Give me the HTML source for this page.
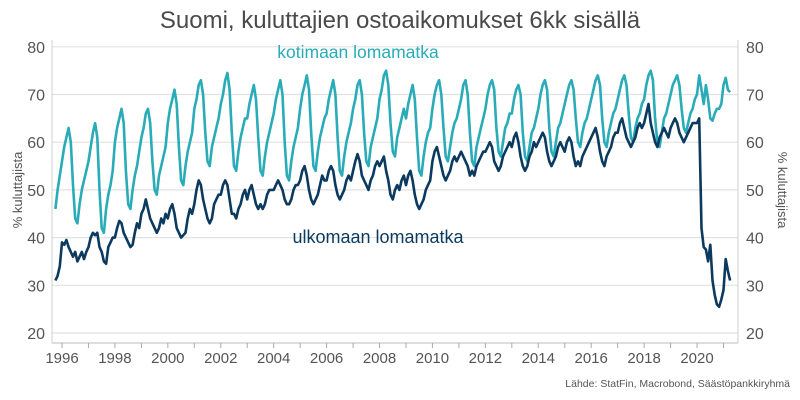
<!DOCTYPE html>
<html><head><meta charset="utf-8"><style>
body{margin:0;background:#fff}
svg{display:block;font-family:"Liberation Sans",sans-serif}
</style></head><body>
<svg id="chart" width="800" height="400" viewBox="0 0 800 400" xmlns="http://www.w3.org/2000/svg">
<text x="400" y="28" text-anchor="middle" font-size="24" fill="#4a4a4a">Suomi, kuluttajien ostoaikomukset 6kk sisällä</text>
<g id="grid"></g>
<g id="axes"></g>
<g id="series"></g>
<text x="358" y="58" text-anchor="middle" font-size="17.5" fill="#2aabb8">kotimaan lomamatka</text>
<text x="378" y="243" text-anchor="middle" font-size="18" fill="#0b3a5e">ulkomaan lomamatka</text>
<text transform="translate(22,190) rotate(-90)" text-anchor="middle" font-size="13" fill="#555">% kuluttajista</text>
<text transform="translate(778,190) rotate(90)" text-anchor="middle" font-size="13" fill="#555">% kuluttajista</text>
<text x="790" y="387" text-anchor="end" font-size="10.5" fill="#555">Lähde: StatFin, Macrobond, Säästöpankkiryhmä</text>
</svg>
<script>
const startYear = 1995.75;
const yTicks = [20,30,40,50,60,70,80];
const xTicks = [1996,1998,2000,2002,2004,2006,2008,2010,2012,2014,2016,2018,2020];
const kotimaan = [
46,50,53,
56,59,61,63,60,51,44,43,47,50,52,54,
56,59,62,64,61,50,42,41,46,49,51,54,
60,63,65,67,64,54,47,46,50,53,55,58,
61,63,66,67,64,56,50,49,53,55,57,59,
64,67,69,71,68,59,52,51,55,58,60,62,
67,69,72,73,70,62,56,55,59,61,63,65,
68,70,73,74.5,71,62,55,54,58,61,63,65,
65,68,70,72,69,61,54,53,57,60,62,64,
66,69,71,73,70,60,53,52,56,59,61,63,
67,70,72,74,71,62,55,54,58,61,63,65,
66,69,71,73,70,61,54,53,57,60,62,64,
67,69,72,73,70,62,56,55,59,61,63,65,
69,71,74,75,72,64,58,57,61,63,65,67,
65,68,70,72,69,61,54,53,57,60,62,63,
67,70,72,73,70,63,57,56,59,62,64,65,
67,69,72,73,70,62,56,55,59,61,63,65,
67,70,72,73,71,63,58,57,60,63,64,66,
66,69,71,72,70,62,57,56,59,62,63,65,
67,70,72,73,71,63,58,57,60,63,64,66,
68,70,72,73,71,65,60,59,62,64,65,67,
69,71,73,74,72,65,60,59,62,64,66,67,
69,71,73,74,72,66,61,60,63,65,66,68,
69,72,74,75,73,65,60,59,62,65,66,68,
70,72,73,74,72,67,63,62,64,66,67,69,
70,74,71,68,72,69,65,64.5,66,67,67,68,
72,73.5,71,70.5
];
const ulkomaan = [
31,32,34,
39,38.5,39.5,38,37,36,37,35,36,37,35.5,37,
38,40,41,40.5,41,38,37,35,34.5,38,39,40,
40,42,43.5,43,41,40,39,38,38.5,41,43,42,
45,46,48,46,44,43,42,41,42,44,43,45,
44,46,47,45,42,41,40,40.5,41,44,46,45,
47,50,52,51,48,46,44,43,44,47,48,49,
49,51,52,51,48,45,45,44,46,47,49,50,
48,50,51,49,47,46,47,46,47,49,50,50,
50,51,52,51,50,48,47,47,48,50,51,51,
52,54,55,53,50,48,47,48,49,51,53,52,
52,54,55,54,51,49,48,49,50,52,53,52,
54,56,57.5,56,53,52,51,50,52,53,55,56,
55,56,57,54,52,49,48,50,51,50,52,53,
51,53,54,52,49,47,46,47,48,50,51,52,
56,58,59,57,55,53,52,53,54,56,57,56,
57,58,57,56,55,53,54,53,55,56,57,58,
58,59,60,59,56,55,54,55,57,58,59,60,
59,61,62,60,57,55,54,55,57,58,60,59,
60,61,62,61,58,56,55,56,57,59,60,59,
58,60,61,60,57,55,56,55,57,58,59,60,
61,62,63,61,58,56,55,57,58,59,61,62,
62,64,65,63,61,60,59,60,61,63,64,63,
64,66,68,64,62,60,59,61,62,63,62,61,
63,64,65,64,62,61,60,61,62,63,64,64,
64,65,42,38,37.5,35,38.5,31,28,26,25.5,27,
29,35.5,33,31
];
const NS='http://www.w3.org/2000/svg';
const L=52,R=738,T=40,B=343;
const xScale=y=>62+(y-1996)*26.46;
const yScale=v=>333-(v-20)*4.77;
function mk(tag,attrs,parent){const e=document.createElementNS(NS,tag);for(const k in attrs)e.setAttribute(k,attrs[k]);parent.appendChild(e);return e;}
const grid=document.getElementById('grid'),axes=document.getElementById('axes'),series=document.getElementById('series');
yTicks.forEach(v=>{
  const g=mk('line',{x1:L,x2:R,y1:yScale(v),y2:yScale(v),stroke:'#e2e2e2','stroke-width':1.2},grid);
  
  
  const t1=mk('text',{x:45,y:yScale(v)+6,'text-anchor':'end','font-size':16,fill:'#555'},axes);
  t1.textContent=v;
  
  
  const t2=mk('text',{x:746,y:yScale(v)+6,'text-anchor':'start','font-size':16,fill:'#555'},axes);
  t2.textContent=v;
  
  
});
const ax=mk('line',{x1:L,x2:L,y1:T,y2:B,stroke:'#cfcfcf','stroke-width':1},axes);


const ax2=mk('line',{x1:R,x2:R,y1:T,y2:B,stroke:'#cfcfcf','stroke-width':1},axes);


const xb=mk('line',{x1:L,x2:R,y1:B,y2:B,stroke:'#bbb','stroke-width':1},axes);


for(let y=1996;y<=2021;y++){
  const tk=mk('line',{x1:xScale(y),x2:xScale(y),y1:B,y2:B+5,stroke:'#aaa'},axes);
  
  
}
xTicks.forEach(y=>{
  const t=mk('text',{x:xScale(y),y:363,'text-anchor':'middle','font-size':15,fill:'#555'},axes);
  t.textContent=y;
  
  
});
function line(arr,color,name){
  const d=arr.map((v,i)=>(i?'L':'M')+xScale(startYear+i/12).toFixed(1)+','+yScale(v).toFixed(1)).join('');
  const p=mk('path',{d:d,fill:'none',stroke:color,'stroke-width':2.6,'stroke-linejoin':'round'},series);
  
  
}
line(kotimaan,'#2aabb8','line-kotimaan');
line(ulkomaan,'#0b3a5e','line-ulkomaan');
</script>
</body></html>
